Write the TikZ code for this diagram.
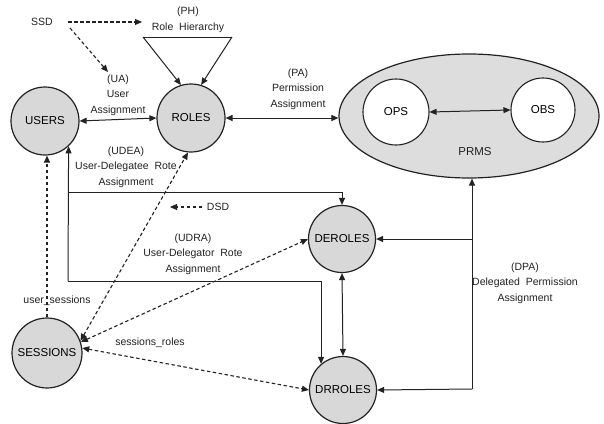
\documentclass[tikz,border=0pt]{standalone}
\usepackage{fontspec}
\setmainfont{Liberation Sans}
\usetikzlibrary{arrows.meta,shapes.geometric,calc}
\definecolor{fillgray}{HTML}{D8D8D8}
\definecolor{ellgray}{HTML}{DDDDDD}
\definecolor{ink}{HTML}{222222}
\begin{document}
\begin{tikzpicture}[x=1pt,y=-1pt,
  ent/.style={circle,draw=ink,line width=1.2pt,fill=fillgray,inner sep=0pt,minimum size=#1,font=\fontsize{11.5}{12}\selectfont},
  inner/.style={circle,draw=ink,line width=1.1pt,fill=white,inner sep=0pt,minimum size=#1,font=\fontsize{11.5}{12}\selectfont},
  lbl/.style={align=center,inner sep=0pt,font=\fontsize{10.5}{15.5}\selectfont,text=ink},
  tip/.style={-{Triangle[length=7pt,width=6pt]}},
  btip/.style={{Triangle[length=7pt,width=6pt]}-{Triangle[length=7pt,width=6pt]}},
  conn/.style={draw=ink,line width=1pt},
  dsh/.style={draw=ink,line width=1.1pt,dash pattern=on 3.5pt off 2.5pt}]
\fill[white] (0,0) rectangle (604,423);
\useasboundingbox (0,0) rectangle (604,423);

% entities
\node[ent=68pt] (USERS) at (45,121) {USERS};
\node[ent=68pt] (ROLES) at (191,118) {ROLES};
\node[ent=67pt] (DEROLES) at (342,239) {DEROLES};
\node[ent=67pt] (DRROLES) at (343,390) {DRROLES};
\node[ent=70pt] (SESSIONS) at (47,353) {SESSIONS};
\node[ellipse,draw=ink,line width=1.2pt,fill=ellgray,minimum width=260pt,minimum height=124pt,inner sep=0pt] (PRMS) at (469,116) {};
\node[inner=66pt] (OPS) at (396,112) {OPS};
\node[inner=64pt] (OBS) at (543,110) {OBS};
\node[lbl,font=\fontsize{11.5}{12}\selectfont] (PRMSt) at (475,152) {PRMS};

% labels
\node[lbl] (SSD) at (42,22) {SSD};
\node[lbl] (PH) at (188,20) {(PH)\\Role\ \ Hierarchy};
\node[lbl] (UA) at (118,95) {(UA)\\User\\Assignment};
\node[lbl] (PA) at (298,89) {(PA)\\Permission\\Assignment};
\node[lbl] (UDEA) at (126,167) {(UDEA)\\User-Delegatee\ \ Rote\\Assignment};
\node[lbl] (DSD) at (218,207) {DSD};
\node[lbl] (UDRA) at (193,254) {(UDRA)\\User-Delegator\ \ Rote\\Assignment};
\node[lbl] (US) at (57,301) {user\_sessions};
\node[lbl] (SR) at (150,343) {sessions\_roles};
\node[lbl] (DPA) at (525,283) {(DPA)\\Delegated\ \ Permission\\Assignment};

% PH triangle
\coordinate (ph1) at (143,37);
\coordinate (ph2) at (232,37);
\draw[conn] (ph1) -- (ph2);
\draw[conn,tip] (ph1) -- (ROLES.107);
\draw[conn,tip] (ph2) -- (ROLES.73);

% SSD
\coordinate (ssdr) at (68,22);
\coordinate (ssdd) at (70,28);
\coordinate (phl) at (142,22);
\coordinate (uatop) at (108,72);
\draw[dsh,tip] (ssdr) -- (phl);
\draw[dsh,tip] (ssdd) -- (uatop);

% main assignments
\draw[conn,btip] (USERS.east) -- (ROLES.west);
\draw[conn,btip] (ROLES.east) -- (ROLES.east -| PRMS.west);
\draw[conn,btip] (OPS.east) -- (OBS.west);

% UDEA / UDRA lines
\coordinate (ud) at (68,281);
\coordinate (ue) at (68,192);
\draw[conn,tip] (ud) -- (USERS.-47);
\draw[conn,tip] (ue) -| (DEROLES.north);
\draw[conn,tip] (ud) -| (DRROLES.130);
\draw[conn,btip] (DEROLES.south) -- (DRROLES.north);

% DPA
\coordinate (dp) at (472,389);
\draw[conn,tip] (dp) -- (dp |- PRMS.south);
\draw[conn,tip] (dp) -- (DRROLES.east);
\draw[conn,tip] (dp |- DEROLES.east) -- (DEROLES.east);

% DSD
\coordinate (dsdtip) at (170,207);
\coordinate (dsdl) at (202,207);
\draw[dsh,tip] (dsdl) -- (dsdtip);

% sessions
\draw[dsh,tip] (SESSIONS.north) -- (SESSIONS.north |- USERS.south);
\draw[dsh,btip] (SESSIONS.20) -- (ROLES.-95);
\draw[dsh,btip] (SESSIONS.18) -- (DEROLES.west);
\draw[dsh,btip] (SESSIONS.8) -- (DRROLES.west);
\end{tikzpicture}
\end{document}
